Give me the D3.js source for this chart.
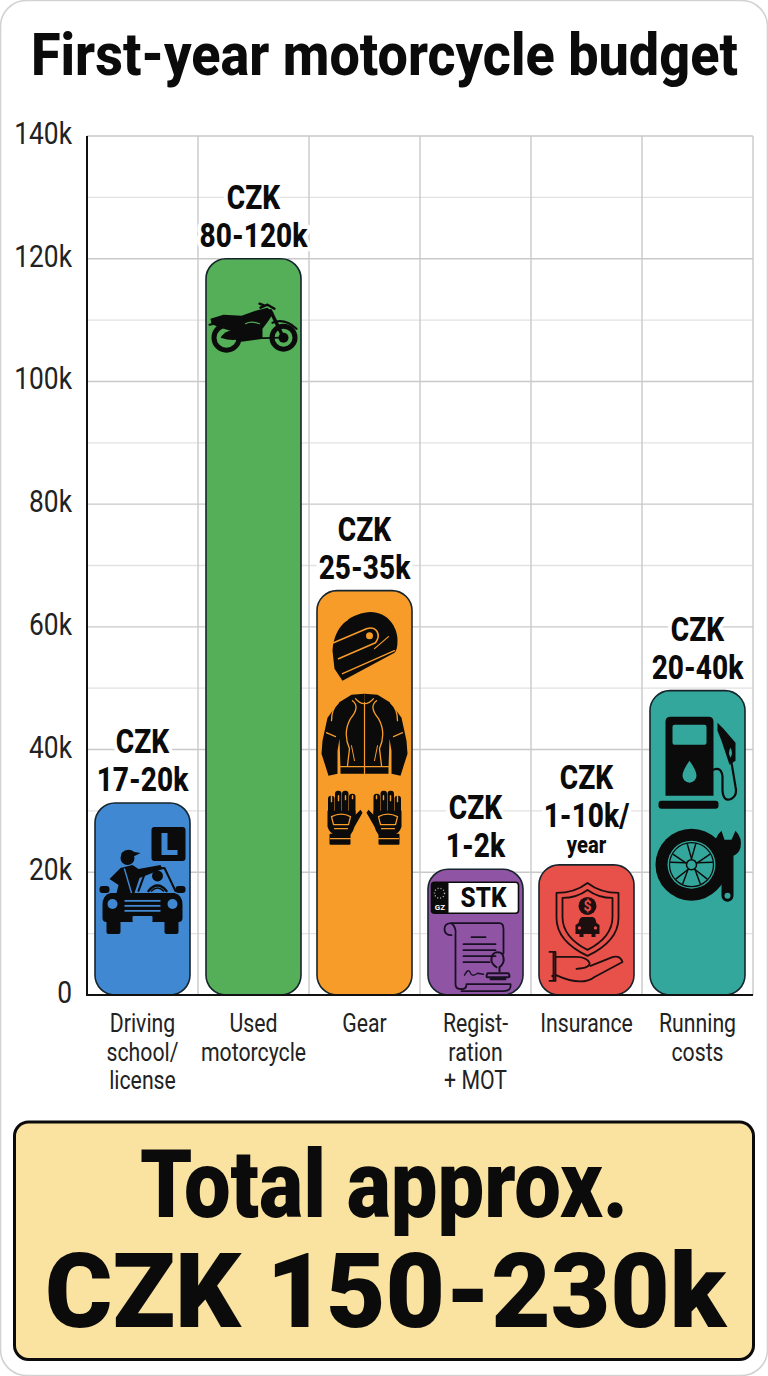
<!DOCTYPE html>
<html lang="en">
<head>
<meta charset="utf-8">
<title>First-year motorcycle budget</title>
<script src="https://cdn.jsdelivr.net/npm/d3@7/dist/d3.min.js"></script>
<style>
  html, body { margin: 0; background: #fff; }
  svg { display: block; font-family: Roboto, sans-serif; }
</style>
</head>
<body>
<svg id="chart" width="768" height="1376"></svg>
<script>
// Budget items, plotted heights and printed labels
const categories = ["Driving school/ license", "Used motorcycle", "Gear", "Regist- ration + MOT", "Insurance", "Running costs"];
const categoryLines = [["Driving", "school/", "license"], ["Used", "motorcycle"], ["Gear"], ["Regist-", "ration", "+ MOT"], ["Insurance"], ["Running", "costs"]];
const barValues = [31300, 120000, 65900, 20500, 21200, 49600];
const rangeLabels = ["17-20k", "80-120k", "25-35k", "1-2k", "1-10k/", "20-40k"];
const labelNotes = ["", "", "", "", "year", ""];
const barColors = ["#4089d2", "#55ae58", "#f79c28", "#8f55a4", "#e8504a", "#33a79b"];
const majorTicks = [0, 20000, 40000, 60000, 80000, 100000, 120000, 140000];
const minorTicks = [10000, 30000, 50000, 70000, 90000, 110000, 130000];
const titleText = "First-year motorcycle budget";
const totalLines = ["Total approx.", "CZK 150-230k"];

const INK = "#0b0b0b";
const svg = d3.select("#chart");

const x = d3.scaleBand().domain(categories).range([87, 753]).paddingInner(0.144).paddingOuter(0.072);
const y = d3.scaleLinear().domain([0, 140000]).range([995, 136]);
const slotEdges = categories.map(c => x(c) - x.step() * 0.072).concat([753]);

// Outer card
svg.append("rect").attr("x", 0.5).attr("y", 0.5).attr("width", 767).attr("height", 1375)
  .attr("rx", 26).attr("fill", "#fff").attr("stroke", "#d2d2d2").attr("stroke-width", 1.6);

// Narrowed Roboto: text is squeezed horizontally about its anchor
function squeezed(parent, str, px, py, size, weight, ratio, anchor = "middle", fill = INK) {
  return parent.append("text")
    .attr("transform", `translate(${px},${py}) scale(${ratio},1)`)
    .attr("text-anchor", anchor).attr("font-size", size).attr("font-weight", weight)
    .attr("fill", fill).text(str);
}

// Squeeze a line so that it spans exactly the given width
function fitted(parent, str, px, py, size, weight, width) {
  const t = squeezed(parent, str, px, py, size, weight, 1, "start");
  const natural = t.node().getComputedTextLength();
  t.attr("transform", `translate(${px},${py}) scale(${width / natural},1)`);
  return t;
}

fitted(svg, titleText, 31, 75, 60, 800, 707);

// Grid
const grid = svg.append("g").attr("fill", "none");
grid.selectAll(".minor").data(minorTicks).join("line").attr("class", "minor")
  .attr("x1", 87).attr("x2", 753).attr("y1", d => y(d)).attr("y2", d => y(d))
  .attr("stroke", "#e2e2e2").attr("stroke-width", 1.3);
grid.selectAll(".major").data(majorTicks.slice(1)).join("line").attr("class", "major")
  .attr("x1", 87).attr("x2", 753).attr("y1", d => y(d)).attr("y2", d => y(d))
  .attr("stroke", "#c9c9c9").attr("stroke-width", 1.4);
grid.selectAll(".vertical").data(slotEdges.slice(1)).join("line").attr("class", "vertical")
  .attr("x1", d => d).attr("x2", d => d).attr("y1", y(140000)).attr("y2", y(0))
  .attr("stroke", "#c9c9c9").attr("stroke-width", 1.4);

// Axis tick labels
majorTicks.forEach(t => {
  squeezed(svg, t === 0 ? "0" : `${t / 1000}k`, 72, y(t) + 8, 31, 400, 0.85, "end", "#222");
});

// Bars
svg.append("g").selectAll("rect").data(categories).join("rect")
  .attr("x", d => x(d)).attr("width", x.bandwidth())
  .attr("y", (d, i) => y(barValues[i])).attr("height", (d, i) => y(0) - y(barValues[i]))
  .attr("rx", 20).attr("fill", (d, i) => barColors[i])
  .attr("stroke", "#16242c").attr("stroke-width", 1.6);

// Axis lines
svg.append("line").attr("x1", 87).attr("x2", 87).attr("y1", y(140000)).attr("y2", y(0))
  .attr("stroke", "#111").attr("stroke-width", 2);
svg.append("line").attr("x1", 86).attr("x2", 753).attr("y1", y(0)).attr("y2", y(0))
  .attr("stroke", "#111").attr("stroke-width", 2);

// Value labels above the bars, with a white halo over the grid
categories.forEach((c, i) => {
  const cx = x(c) + x.bandwidth() / 2;
  const top = y(barValues[i]);
  const lines = ["CZK", rangeLabels[i]];
  const noteShift = labelNotes[i] ? 26 : 0;
  const g = svg.append("g");
  lines.forEach((s, k) => {
    squeezed(g, s, cx, top - 12 - noteShift - (1 - k) * 38, 33, 800, 0.85)
      .attr("stroke", "#fff").attr("stroke-width", 9).attr("paint-order", "stroke").attr("stroke-linejoin", "round");
  });
  if (labelNotes[i]) {
    squeezed(g, labelNotes[i], cx, top - 12, 24, 800, 0.84)
      .attr("stroke", "#fff").attr("stroke-width", 6).attr("paint-order", "stroke");
  }
});

// Category labels under the axis
categories.forEach((c, i) => {
  const cx = x(c) + x.bandwidth() / 2;
  categoryLines[i].forEach((s, k) => squeezed(svg, s, cx, 1032 + k * 28.5, 25, 400, 0.85, "middle", "#222"));
});

// --- Pictograms, each drawn about its bar's top-centre point ---
function filled(g, d, fill = INK) { return g.append("path").attr("d", d).attr("fill", fill); }
function stroked(g, d, color, w) {
  return g.append("path").attr("d", d).attr("fill", "none").attr("stroke", color)
    .attr("stroke-width", w).attr("stroke-linecap", "round").attr("stroke-linejoin", "round");
}
function disc(g, cx, cy, r, fill = INK) { return g.append("circle").attr("cx", cx).attr("cy", cy).attr("r", r).attr("fill", fill); }
function box(g, rx, ry, w, h, r, fill = INK) {
  return g.append("rect").attr("x", rx).attr("y", ry).attr("width", w).attr("height", h).attr("rx", r).attr("fill", fill);
}

function drawLearner(g, bg) {
  box(g, 9, 24, 34, 34, 3);
  filled(g, "M19 30h6v17h10v5h-16z", bg);
  // instructor
  disc(g, -15, 55, 7);
  filled(g, "M-21 50 Q-15 44 -8 49 L-2 50 L-8 53 L-21 53Z");
  filled(g, "M-22 65 L-10 62 L-4 66 L18 62 L20 66 L-3 75 L-8 90 L-26 90 L-24 82 L-33 76Z");
  stroked(g, "M-18 66 L-11 90", bg, 1.4);
  // passenger and windscreen
  disc(g, 15, 73, 5.5);
  stroked(g, "M6 88 Q15 77 24 88", INK, 2.5);
  stroked(g, "M9 88 Q15 82 21 88", INK, 1.5);
  stroked(g, "M-4 88 L4 66 L22 65 L33 88", INK, 2);
  // car front
  filled(g, "M-32 90 H32 Q40 92 40 102 V115 Q40 119 36 119 H-36 Q-40 119 -40 115 V102 Q-40 92 -32 90Z");
  box(g, -36, 116, 14, 15, 2);
  box(g, 22, 116, 14, 15, 2);
  box(g, -43, 83, 10, 7, 3);
  box(g, 33, 83, 10, 7, 3);
  disc(g, -30, 101, 5, bg);
  disc(g, 30, 101, 5, bg);
  [97, 102, 107].forEach(v => box(g, -18, v, 36, 1.8, 0, bg));
  box(g, -10, 113, 20, 6, 1, bg);
}

function drawBike(g, bg) {
  [[-27, 15, 5], [30, 14, 5]].forEach(([wx, r, sw]) => {
    g.append("circle").attr("cx", wx).attr("cy", 79).attr("r", r - sw / 2)
      .attr("fill", "none").attr("stroke", INK).attr("stroke-width", sw);
  });
  disc(g, 30, 79, 5);
  filled(g, "M-33 79 Q-26 69 -16 73 L-8 78 Q-18 84 -33 79Z");
  filled(g, "M-43 60 L-30 56 L-12 57 L2 52 L14 49 L20 54 L15 62 L9 70 L9 80 L-12 83 L-20 73 L-36 68 L-42 65Z");
  stroked(g, "M7 49 L14 46 L21 50 M6 45 L11 47", INK, 2.4);
  stroked(g, "M17 52 L30 79", INK, 3.4);
  stroked(g, "M19 64 Q31 59 43 70", INK, 2.2);
  stroked(g, "M-10 80 L28 79", INK, 1.8);
  stroked(g, "M-44 66 Q-30 62 -16 70", INK, 2);
  stroked(g, "M-8 65 Q-2 62 6 65", bg, 1.2);
}

function drawGloveRight(g, bg) {
  // fingers
  [[9, 12], [16, 9], [23, 9], [30, 14]].forEach(([fx, fy]) => box(g, fx, 191 + fy, 6.5, 30, 3));
  filled(g, "M9 220 H37 L37 236 Q35 242 30 244 L14 244 Q11 240 10 236 L2 222 L4 219 L9 224Z");
  box(g, 14, 243, 21, 11, 1);
  stroked(g, "M14 248 H34", bg, 1.2);
  stroked(g, "M14 226 Q23 221 33 226 L31 234 L16 234Z", bg, 1.3);
  stroked(g, "M17 238 H30", bg, 1.2);
  [12, 19, 26, 33].forEach((v, i) => stroked(g, `M${v} 205 V${208 + i}`, bg, 1.4));
}

function drawGear(g, bg) {
  // helmet
  filled(g, "M-32 60 C-31 40 -20 26 0 22 C20 18 33 34 33 50 C33 56 32 60 30 62 L-22 90 L-30 78 Z");
  stroked(g, "M-31 52 L2 38 C12 35 17 44 11 52 L-26 68", bg, 1.6);
  stroked(g, "M-28 35 L-17 29", bg, 1.4);
  stroked(g, "M-22 83 L30 60", bg, 1.4);
  stroked(g, "M10 58 L24 46", bg, 1.2);
  disc(g, 5, 45, 3.5, bg);
  // jacket, one side mirrored onto the other
  [1, -1].forEach(side => {
    const half = g.append("g").attr("transform", `scale(${side},1)`);
    filled(half, "M0 103 L13 104 L26 112 L37 127 L42 150 L43 163 L36 185 L27 183 L27 160 L25 148 L24 178 L24 183 L0 183Z");
    stroked(half, "M12 110 Q4 116 14 128 Q22 142 15 158 L17 175", bg, 1.3);
    stroked(half, "M26 112 Q33 118 33 130", bg, 1.3);
    stroked(half, "M29 146 L38 142", bg, 1.2);
    stroked(half, "M0 176 H24", bg, 1.2);
    stroked(half, "M9 108 Q5 113 0 113", bg, 1.3);
    stroked(half, "M13 155 L10 170", bg, 1);
  });
  stroked(g, "M0 112 V183", bg, 1.2);
  // gloves
  [1, -1].forEach(side => drawGloveRight(g.append("g").attr("transform", `scale(${side},1)`), bg));
}

function drawPlate(g, bg) {
  box(g, -44, 13, 87, 31, 3, "#fff").attr("stroke", INK).attr("stroke-width", 1.6);
  filled(g, "M-44 16 Q-44 13 -41 13 H-27 V44 H-41 Q-44 44 -44 41Z");
  g.append("circle").attr("cx", -36).attr("cy", 24).attr("r", 5).attr("fill", "none")
    .attr("stroke", "#bbb").attr("stroke-width", 1.4).attr("stroke-dasharray", "1 2");
  g.append("text").attr("x", -35.5).attr("y", 41).attr("text-anchor", "middle").attr("font-size", 8)
    .attr("font-weight", 700).attr("fill", "#fff").text("GZ");
  squeezed(g, "STK", 8, 38, 27, 800, 0.9);
  // certificate scroll
  const line = "#1a1024";
  stroked(g, "M-24 66 Q-31 66 -31 60 Q-31 54 -24 54 H24 Q28 54 28 60 V84", line, 1.8);
  stroked(g, "M-24 54 Q-19 58 -20 66 V115 Q-20 120 -14 120", line, 1.8);
  stroked(g, "M-14 120 Q-9 120 -9 115 H35 Q36 122 28 122 H-14", line, 1.8);
  [[-4, 10, 68], [-12, 20, 75], [-12, 20, 81], [-12, 20, 87], [-12, 14, 93]].forEach(([a, b, v]) => {
    stroked(g, `M${a} ${v} H${b}`, line, 1.8);
  });
  stroked(g, "M-11 106 Q-7 98 -5 104 Q-3 108 2 104 L8 105", line, 1.4);
  // rubber stamp
  stroked(g, "M21 98 Q15 94 16 89 Q17 83 22 83 Q28 83 28 89 Q29 94 24 98 V102", line, 2);
  stroked(g, "M12 104 H33 Q35 108 33 108 H12 Q10 108 12 104Z M15 110 H30", line, 2);
}

function drawCover(g, bg) {
  const ink = "#1d0f10";
  stroked(g, "M1 18 Q14 28 32 28 V53 Q32 76 1 91 Q-30 76 -30 53 V28 Q-12 28 1 18Z", ink, 1.8);
  stroked(g, "M1 25 Q12 33 26 33 V52 Q26 72 1 85 Q-24 72 -24 52 V33 Q-10 33 1 25Z", ink, 1.8);
  disc(g, 1, 41, 9, ink);
  g.append("text").attr("x", 1).attr("y", 46).attr("text-anchor", "middle").attr("font-size", 14)
    .attr("font-weight", 700).attr("fill", bg).text("$");
  filled(g, "M-8 58 Q-7 52 -4 52 H6 Q9 52 10 58 L13 60 V69 H9 V72 H5 V69 H-3 V72 H-7 V69 H-11 V60Z", ink);
  disc(g, -7, 63, 1.6, bg);
  disc(g, 9, 63, 1.6, bg);
  stroked(g, "M-33 88 V115 M-37 87 H-31 V116 H-37 M-31 92 H-10 Q0 92 3 98 Q4 103 -10 104 M-31 110 Q-5 122 8 112 L36 97 Q33 89 24 93 L4 101", ink, 1.8);
  disc(g, -34, 111, 1.2, ink);
}

function drawRunning(g, bg) {
  // fuel pump
  filled(g, "M-32 31 Q-32 26 -27 26 H11 Q16 26 16 31 V105 H-32Z");
  box(g, -25, 34, 34, 20, 2, bg);
  filled(g, "M-8 70 Q-15 80 -15 85 A7 7 0 0 0 -1 85 Q-1 80 -8 70Z", bg);
  box(g, -39, 110, 60, 8, 3);
  stroked(g, "M16 79 Q24 76 25 86 V100 Q26 112 34 108 Q40 105 38 96 L33 66", INK, 2.2);
  filled(g, "M20 32 L26 38 L38 52 L38 70 L32 74 L28 62 L24 50 L20 40Z");
  filled(g, "M33 57 Q36 62 33 67 Q30 62 33 57Z", bg);
  // tyre and wrench
  disc(g, -6, 174, 36);
  disc(g, -6, 174, 24, bg);
  g.append("circle").attr("cx", -6).attr("cy", 174).attr("r", 22).attr("fill", "none")
    .attr("stroke", INK).attr("stroke-width", 1.3);
  d3.range(5).forEach(k => {
    const a = k * 2 * Math.PI / 5 - Math.PI / 2;
    [-0.2, 0.2].forEach(o => stroked(g,
      `M${-6 + 6 * Math.cos(a)} ${174 + 6 * Math.sin(a)} L${-6 + 21 * Math.cos(a + o)} ${174 + 21 * Math.sin(a + o)}`, INK, 1.5));
  });
  g.append("circle").attr("cx", -6).attr("cy", 174).attr("r", 5).attr("fill", "none")
    .attr("stroke", INK).attr("stroke-width", 1.5);
  filled(g, "M24 140 L27 149 L34 149 L38 140 Q45 147 43 157 Q41 163 36 165 V205 A6 6 0 0 1 24 205 V165 Q19 162 18 155 Q17 146 24 140Z");
  disc(g, 30, 205, 3, bg);
}

const iconDrawers = [drawLearner, drawBike, drawGear, drawPlate, drawCover, drawRunning];
categories.forEach((c, i) => {
  const g = svg.append("g")
    .attr("transform", `translate(${x(c) + x.bandwidth() / 2},${y(barValues[i])})`);
  iconDrawers[i](g, barColors[i]);
});

// Total panel
svg.append("rect").attr("x", 14.5).attr("y", 1122).attr("width", 739).attr("height", 237.5)
  .attr("rx", 14).attr("fill", "#fae3a0").attr("stroke", "#0b0b0b").attr("stroke-width", 3);
fitted(svg, totalLines[0], 140, 1217, 94, 900, 488);
fitted(svg, totalLines[1], 45, 1327, 104, 900, 681);
</script>
</body>
</html>
